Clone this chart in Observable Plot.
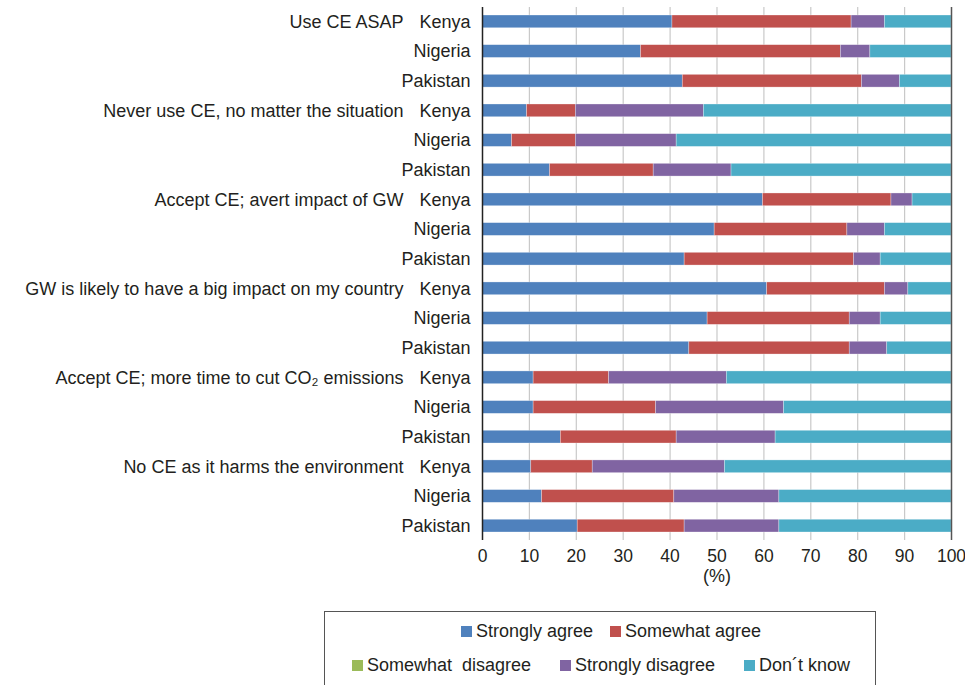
<!DOCTYPE html>
<html>
<head>
<meta charset="utf-8">
<script src="https://cdn.jsdelivr.net/npm/d3@7"></script>
<script src="https://cdn.jsdelivr.net/npm/@observablehq/plot@0.6"></script>
<style>
  html, body { margin: 0; padding: 0; background: #fff; }
  body { width: 965px; height: 685px; overflow: hidden; position: relative;
         font-family: "Liberation Sans", Arial, sans-serif; color: #231f20; }
  #chart svg { overflow: visible; }
  #legend { position: absolute; left: 324px; top: 611px; width: 552px; height: 80px;
            border: 1px solid #555; box-sizing: border-box; font-size: 18px; }
  #legend .row { display: flex; justify-content: center; align-items: center; height: 34px; }
  #legend .row1 { margin-top: 2px; padding-left: 22px; gap: 17px; }
  #legend .row2 { gap: 29px; padding-left: 2px; }
  #legend .item { display: flex; align-items: center; white-space: pre; }
  #legend .sw { width: 11px; height: 11px; margin-right: 4px; display: inline-block; }
</style>
</head>
<body>
<div id="chart"></div>
<div id="legend"></div>
<script>
// Survey statements and the countries polled for each
const statements = [
  "Use CE ASAP",
  "Never use CE, no matter the situation",
  "Accept CE; avert impact of GW",
  "GW is likely to have a big impact on my country",
  "Accept CE; more time to cut CO₂ emissions",
  "No CE as it harms the environment"
];
const countries = ["Kenya", "Nigeria", "Pakistan"];

// Response shares (%), one value per statement × country, in the order above
const stronglyAgree    = [40.5, 33.8, 42.7,  9.5,  6.3, 14.4, 59.8, 49.5, 43.1, 60.7, 48.0, 44.1, 10.9, 10.9, 16.7, 10.4, 12.7, 20.3];
const somewhatAgree    = [38.2, 42.6, 38.2, 10.4, 13.6, 22.1, 27.4, 28.3, 36.1, 25.1, 30.3, 34.2, 16.1, 26.1, 24.7, 13.1, 28.2, 22.8];
const somewhatDisagree = [ 0,    0,    0,    0,    0,    0,    0,    0,    0,    0,    0,    0,    0,    0,    0,    0,    0,    0  ];
const stronglyDisagree = [ 7.1,  6.3,  8.1, 27.3, 21.5, 16.6,  4.5,  8.0,  5.7,  5.0,  6.6,  8.0, 25.1, 27.3, 21.1, 28.2, 22.4, 20.2];
const dontKnow         = [14.2, 17.3, 11.0, 52.8, 58.6, 46.9,  8.3, 14.2, 15.1,  9.2, 15.1, 13.7, 47.9, 35.7, 37.5, 48.3, 36.7, 36.7];

const responses = ["Strongly agree", "Somewhat agree", "Somewhat  disagree", "Strongly disagree", "Don´t know"];
const colors = ["#4f81bd", "#c0504d", "#9bbb59", "#8064a2", "#4bacc6"];
const seriesValues = [stronglyAgree, somewhatAgree, somewhatDisagree, stronglyDisagree, dontKnow];

// One row per bar
const rows = [];
statements.forEach((s, i) => countries.forEach((c, j) => rows.push({statement: s, country: c, key: s + "|" + c, idx: i * 3 + j})));
const rowKeys = rows.map(r => r.key);

// Long table for stacking
const table = [];
rows.forEach(r => responses.forEach((resp, k) => {
  const v = seriesValues[k][r.idx];
  if (v > 0) table.push({key: r.key, response: resp, value: v});
}));

const font = '"Liberation Sans", Arial, sans-serif';

const chart = Plot.plot({
  width: 965,
  height: 592,
  marginTop: 7,
  marginBottom: 52,
  marginLeft: 482,
  marginRight: 14,
  style: {fontFamily: font, fontSize: "18px", color: "#231f20", background: "white", overflow: "visible"},
  x: {domain: [0, 100], label: null},
  y: {domain: rowKeys, paddingInner: 0.57, paddingOuter: 0.27, round: false, label: null},
  color: {domain: responses, range: colors},
  marks: [
    Plot.gridX(d3.range(10, 100, 10), {stroke: "#c9c9c9", strokeOpacity: 1, strokeWidth: 1.2}),
    Plot.barX(table, Plot.stackX({
      y: "key", x: "value", fill: "response", order: responses,
      stroke: "white", strokeOpacity: 0.5, strokeWidth: 0.6
    })),
    Plot.ruleX([0], {stroke: "#222", strokeWidth: 1.5}),
    Plot.ruleX([100], {stroke: "#555", strokeWidth: 1.5}),
    Plot.axisX({ticks: d3.range(0, 101, 10), tickSize: 0, tickPadding: 9, label: null, fontSize: 17.5}),
    Plot.axisY({tickSize: 0, tickPadding: 12, tickFormat: k => k.split("|")[1], fontSize: 18, label: null}),
    Plot.text(rows.filter(r => r.country === "Kenya"), {
      y: "key", text: "statement", frameAnchor: "left", textAnchor: "end", dx: -79, fontSize: 18, fill: "#231f20"
    }),
    Plot.text(["(%)"], {text: d => d, frameAnchor: "bottom", dy: 41, fontSize: 18, fill: "#231f20"})
  ]
});
document.getElementById("chart").appendChild(chart);

// Legend box below the plot
const legend = document.getElementById("legend");
const rowsLegend = [[0, 1], [2, 3, 4]];
rowsLegend.forEach((items, ri) => {
  const row = document.createElement("div");
  row.className = "row row" + (ri + 1);
  items.forEach(k => {
    const item = document.createElement("span");
    item.className = "item";
    const sw = document.createElement("span");
    sw.className = "sw";
    sw.style.background = colors[k];
    item.appendChild(sw);
    item.appendChild(document.createTextNode(responses[k]));
    row.appendChild(item);
  });
  legend.appendChild(row);
});
</script>
</body>
</html>
